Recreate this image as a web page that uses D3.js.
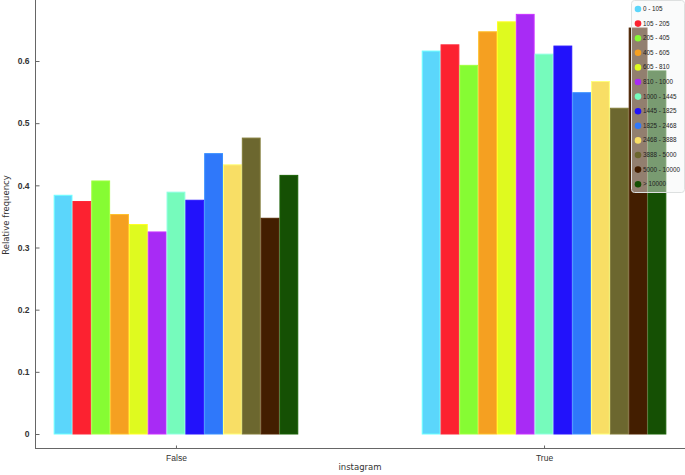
<!DOCTYPE html>
<html>
<head>
<meta charset="utf-8">
<script src="https://cdn.jsdelivr.net/npm/d3@7"></script>
<style>
  html, body { margin: 0; padding: 0; background: #fff; }
  svg { display: block; font-family: "DejaVu Sans", Verdana, sans-serif; }
</style>
</head>
<body>
<svg id="chart" width="685" height="475"></svg>
<script>
const groups = ["False", "True"];
const categories = ["0 - 105", "105 - 205", "205 - 405", "405 - 605", "605 - 810", "810 - 1000",
  "1000 - 1445", "1445 - 1825", "1825 - 2468", "2468 - 3888", "3888 - 5000", "5000 - 10000", "> 10000"];
const valuesFalse = [0.384, 0.374, 0.407, 0.353, 0.337, 0.325, 0.389, 0.376, 0.451, 0.433, 0.476, 0.347, 0.416];
const valuesTrue  = [0.616, 0.626, 0.593, 0.647, 0.663, 0.675, 0.611, 0.624, 0.549, 0.567, 0.524, 0.653, 0.584];
const colors = ["#5bd6fb", "#fc2230", "#86fc33", "#f5a021", "#dffa1f", "#a82bf5", "#76fbbc",
  "#2212fb", "#2f78fa", "#f8de65", "#6c672f", "#431e00", "#155004"];
const yTicks = [0, 0.1, 0.2, 0.3, 0.4, 0.5, 0.6];
const xTitle = "instagram";
const yTitle = "Relative frequency";

(function () {
const svg = d3.select("#chart");
const mLeft = 35, mRight = 685, mTop = 0, axisY = 448.5;

const y = d3.scaleLinear().domain([0, 0.6]).range([434, 61]);
const x = d3.scalePoint().domain(groups).range([mLeft, mRight]).padding(0.383);
const xi = d3.scaleBand().domain(categories).range([-122.3, 122.3]).padding(0);
const color = d3.scaleOrdinal().domain(categories).range(colors);

const data = [];
groups.forEach((g, gi) => {
  const vals = gi === 0 ? valuesFalse : valuesTrue;
  categories.forEach((c, ci) => data.push({ g, c, v: vals[ci] }));
});

// bars
svg.append("g").selectAll("rect").data(data).join("rect")
  .attr("x", d => x(d.g) + xi(d.c) + 0.5)
  .attr("y", d => y(d.v))
  .attr("width", xi.bandwidth() - 1)
  .attr("height", d => y(0) - y(d.v))
  .attr("fill", d => color(d.c))
  .attr("stroke", d => d3.color(color(d.c)).brighter(0.5))
  .attr("stroke-width", 1);

// y axis
const yAxis = svg.append("g").attr("transform", `translate(${mLeft + 0.5},0)`)
  .call(d3.axisRight(y).tickValues(yTicks).tickFormat(d => d === 0 ? "0" : d3.format(".1f")(d)).tickSize(4));
yAxis.select(".domain").attr("d", `M0,${mTop}V${axisY}`).attr("stroke", "#666");
yAxis.selectAll(".tick line").attr("stroke", "#666");
yAxis.selectAll(".tick text").attr("x", -6).attr("text-anchor", "end")
  .attr("fill", "#333").attr("font-size", 8.5).attr("font-weight", "bold");

// x axis
const xAxis = svg.append("g").attr("transform", `translate(0,${axisY})`)
  .call(d3.axisTop(x).tickSize(3));
xAxis.select(".domain").attr("d", `M${mLeft},0H${mRight}`).attr("stroke", "#666");
xAxis.selectAll(".tick line").attr("stroke", "#666");
xAxis.selectAll(".tick text").attr("y", 12).attr("dy", "0em")
  .attr("fill", "#333").attr("font-size", 8.5);

svg.append("text").attr("x", 360).attr("y", 470).attr("text-anchor", "middle")
  .attr("font-size", 8.5).attr("fill", "#333").text(xTitle);
svg.append("text").attr("transform", "translate(9,215) rotate(-90)").attr("text-anchor", "middle")
  .attr("font-size", 8.5).attr("fill", "#333").text(yTitle);

// legend
const lg = svg.append("g");
lg.append("rect").attr("x", 631.5).attr("y", 0.5).attr("width", 53).attr("height", 192)
  .attr("rx", 3).attr("fill", "rgba(243,246,246,0.45)").attr("stroke", "#dde0e0");
const items = lg.selectAll("g.item").data(categories).join("g")
  .attr("transform", (d, i) => `translate(638,${9 + i * 14.6})`);
items.append("circle").attr("r", 3.3).attr("fill", d => color(d));
items.append("text").attr("x", 5).attr("dy", "0.33em").attr("font-size", 6.3)
  .attr("font-family", "'Liberation Sans', Arial, sans-serif")
  .attr("fill", "#222").text(d => d);
})();
</script>
</body>
</html>
